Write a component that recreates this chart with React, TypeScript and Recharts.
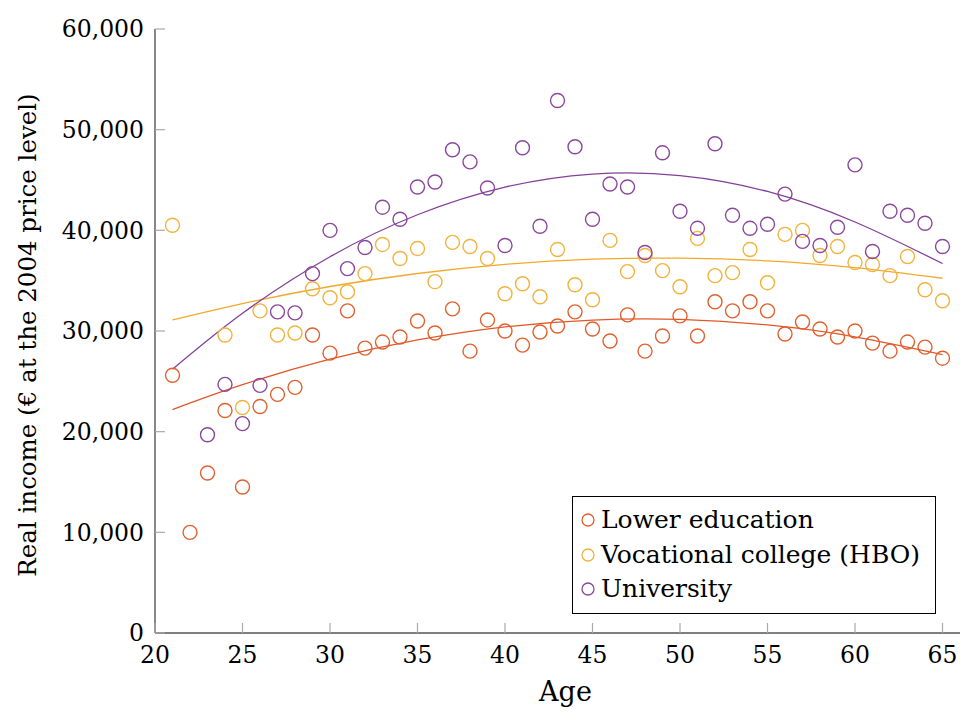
import React from 'react';
import { ComposedChart, Scatter, Line, XAxis, YAxis, Legend } from 'recharts';

const FONT = '"DejaVu Serif", serif';

const lowerAges = [21, 22, 23, 24, 25, 26, 27, 28, 29, 30, 31, 32, 33, 34, 35, 36, 37, 38, 39, 40, 41, 42, 43, 44, 45, 46, 47, 48, 49, 50, 51, 52, 53, 54, 55, 56, 57, 58, 59, 60, 61, 62, 63, 64, 65];
const lowerIncome = [25600, 10000, 15900, 22100, 14500, 22500, 23700, 24400, 29600, 27800, 32000, 28300, 28900, 29400, 31000, 29800, 32200, 28000, 31100, 30000, 28600, 29900, 30500, 31900, 30200, 29000, 31600, 28000, 29500, 31500, 29500, 32900, 32000, 32900, 32000, 29700, 30900, 30200, 29400, 30000, 28800, 28000, 28900, 28400, 27300];

const vocAges = [21, 24, 25, 26, 27, 28, 29, 30, 31, 32, 33, 34, 35, 36, 37, 38, 39, 40, 41, 42, 43, 44, 45, 46, 47, 48, 49, 50, 51, 52, 53, 54, 55, 56, 57, 58, 59, 60, 61, 62, 63, 64, 65];
const vocIncome = [40500, 29600, 22400, 32000, 29600, 29800, 34200, 33300, 33900, 35700, 38600, 37200, 38200, 34900, 38800, 38400, 37200, 33700, 34700, 33400, 38100, 34600, 33100, 39000, 35900, 37500, 36000, 34400, 39200, 35500, 35800, 38100, 34800, 39600, 40000, 37500, 38400, 36800, 36600, 35500, 37400, 34100, 33000];

const uniAges = [23, 24, 25, 26, 27, 28, 29, 30, 31, 32, 33, 34, 35, 36, 37, 38, 39, 40, 41, 42, 43, 44, 45, 46, 47, 48, 49, 50, 51, 52, 53, 54, 55, 56, 57, 58, 59, 60, 61, 62, 63, 64, 65];
const uniIncome = [19700, 24700, 20800, 24600, 31900, 31800, 35700, 40000, 36200, 38300, 42300, 41100, 44300, 44800, 48000, 46800, 44200, 38500, 48200, 40400, 52900, 48300, 41100, 44600, 44300, 37800, 47700, 41900, 40200, 48600, 41500, 40200, 40600, 43600, 38900, 38500, 40300, 46500, 37900, 41900, 41500, 40700, 38400];

const fitAges = [21, 25, 30, 35, 40, 45, 50, 55, 60, 65];
const lowerFit = [22200, 24670, 27200, 29110, 30410, 31090, 31150, 30600, 29420, 27650];
const vocFit = [31100, 32730, 34420, 35710, 36620, 37130, 37240, 36970, 36300, 35240];
const uniFit = [26200, 31760, 37380, 41550, 44290, 45590, 45440, 43860, 40830, 36700];

const xTicks = [20, 25, 30, 35, 40, 45, 50, 55, 60, 65];
const yTicks = [0, 10000, 20000, 30000, 40000, 50000, 60000];

const seriesNames = ['Lower education', 'Vocational college (HBO)', 'University'];
const markerColors = ['#e2602e', '#f2b33c', '#8b479d'];
const lineColors = ['#e0572a', '#f0aa2a', '#83409a'];

const toPts = (ages: number[], vals: number[]) => ages.map((age, i) => ({ age, income: vals[i] }));

const scatterSets = [toPts(lowerAges, lowerIncome), toPts(vocAges, vocIncome), toPts(uniAges, uniIncome)];
const fitSets = [toPts(fitAges, lowerFit), toPts(fitAges, vocFit), toPts(fitAges, uniFit)];

const X_MARGIN = 13;
const Y_MARGIN = 11;
const TICK_FONT = 23.5;

const XTick = (props: any) => {
  const { x, y, payload } = props;
  const axisY = y - X_MARGIN;
  return (
    <g>
      <line x1={x} x2={x} y1={axisY} y2={axisY - 10} stroke="#aaaaaa" strokeWidth={1.2} />
      <text x={x} y={y} dy="0.72em" textAnchor="middle" fill="#000" fontFamily={FONT} fontSize={TICK_FONT}>
        {payload.value}
      </text>
    </g>
  );
};

const YTick = (props: any) => {
  const { x, y, payload } = props;
  const axisX = x + Y_MARGIN;
  return (
    <g>
      <line x1={axisX} x2={axisX + 10} y1={y} y2={y} stroke="#aaaaaa" strokeWidth={1.2} />
      <text x={x} y={y} dy="0.36em" textAnchor="end" fill="#000" fontFamily={FONT} fontSize={TICK_FONT}>
        {Number(payload.value).toLocaleString('en-US')}
      </text>
    </g>
  );
};

const renderLegend = () => (
  <div
    style={{
      border: '1.3px solid #000',
      boxSizing: 'border-box',
      width: 364,
      height: 118,
      background: '#fff',
      paddingTop: 6,
      fontFamily: FONT,
      fontSize: 25,
      color: '#000',
    }}
  >
    {seriesNames.map((n, i) => (
      <div key={n} style={{ display: 'flex', alignItems: 'center', height: 34.5 }}>
        <svg width={24} height={20} style={{ marginLeft: 3 }}>
          <circle cx={12} cy={10} r={6} fill="none" stroke={markerColors[i]} strokeWidth={1.3} />
        </svg>
        <span style={{ marginLeft: 1, lineHeight: '34px', whiteSpace: 'nowrap' }}>{n}</span>
      </div>
    ))}
  </div>
);

const makeShape = (color: string) => (p: any) => (
  <circle cx={p.cx} cy={p.cy} r={7} fill="none" stroke={color} strokeWidth={1.4} />
);

export default function App() {
  return (
    <div style={{ position: 'absolute', left: 0, top: 0, width: 960, height: 713, background: '#fff' }}>
      <ComposedChart width={960} height={713} margin={{ top: 29, right: 0, bottom: 0, left: 0 }}>
        <XAxis
          dataKey="age"
          type="number"
          domain={[20, 66]}
          ticks={xTicks}
          allowDuplicatedCategory={false}
          height={80}
          tickSize={0}
          tickMargin={X_MARGIN}
          tickLine={false}
          tick={<XTick />}
          axisLine={{ stroke: '#555', strokeWidth: 1.4 }}
          label={{
            content: (p: any) => {
              const vb = p.viewBox;
              return (
                <text x={vb.x + vb.width / 2 + 8} y={vb.y + 68} textAnchor="middle" fill="#000" fontFamily={FONT} fontSize={27}>
                  Age
                </text>
              );
            },
          }}
        />
        <YAxis
          dataKey="income"
          type="number"
          domain={[0, 60000]}
          ticks={yTicks}
          width={155}
          tickSize={0}
          tickMargin={Y_MARGIN}
          tickLine={false}
          tick={<YTick />}
          axisLine={{ stroke: '#555', strokeWidth: 1.4 }}
          label={{
            content: (p: any) => {
              const vb = p.viewBox;
              const cx = vb.x + 36;
              const cy = vb.y + vb.height / 2 + 4;
              return (
                <text x={cx} y={cy} transform={`rotate(-90, ${cx}, ${cy})`} textAnchor="middle" fill="#000" fontFamily={FONT} fontSize={24.5}>
                  Real income (€ at the 2004 price level)
                </text>
              );
            },
          }}
        />
        {scatterSets.map((d, i) => (
          <Scatter
            key={'s' + i}
            name={seriesNames[i]}
            data={d}
            dataKey="income"
            shape={makeShape(markerColors[i])}
            fill={markerColors[i]}
            isAnimationActive={false}
          />
        ))}
        {fitSets.map((d, i) => (
          <Line
            key={'l' + i}
            data={d}
            dataKey="income"
            type="natural"
            dot={false}
            activeDot={false}
            stroke={lineColors[i]}
            strokeWidth={1.3}
            legendType="none"
            isAnimationActive={false}
          />
        ))}
        <Legend
          layout="vertical"
          align="center"
          verticalAlign="middle"
          content={renderLegend}
          wrapperStyle={{ position: 'absolute', left: 572, top: 496, width: 364, height: 118 }}
        />
      </ComposedChart>
    </div>
  );
}
